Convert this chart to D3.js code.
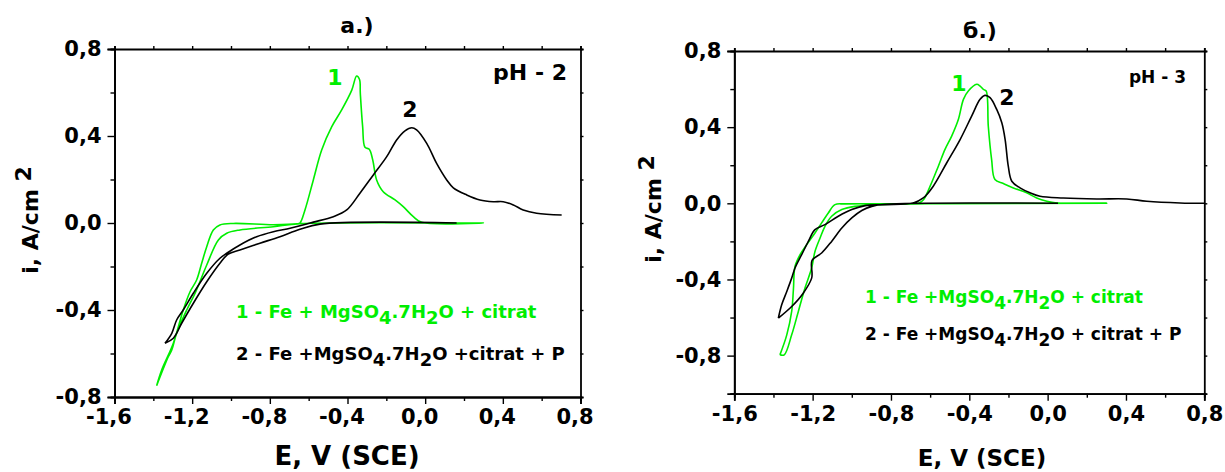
<!DOCTYPE html>
<html>
<head>
<meta charset="utf-8">
<script src="https://cdn.jsdelivr.net/npm/d3@7"></script>
<style>
  body { margin: 0; background: #fff; }
  svg text { font-family: "DejaVu Sans", sans-serif; font-weight: bold; }
</style>
</head>
<body>
<div id="chart-area"></div>
<script>
// Data: [E (V), i (A/cm2)], null = pen up

// a.) pH 2, curve 1 (Fe + MgSO4.7H2O + citrat)
const phTwoCurve1 = [
  [-1.383,-0.748],[-1.357,-0.676],[-1.297,-0.553],[-1.246,-0.40],[-1.211,-0.316],[-1.177,-0.262],
  [-1.151,-0.185],[-1.125,-0.109],[-1.091,-0.032],[-1.057,-0.009],[-0.988,-0.002],[-0.782,-0.008],
  [-0.662,-0.004],[-0.645,0.0],[-0.619,0.06],[-0.576,0.198],[-0.533,0.336],[-0.481,0.443],
  [-0.43,0.52],[-0.378,0.611],[-0.353,0.676],[-0.338,0.66],[-0.334,0.596],[-0.322,0.443],
  [-0.31,0.348],[-0.288,0.339],[-0.27,0.29],[-0.25,0.198],[-0.216,0.144],[-0.155,0.106],
  [-0.113,0.075],[-0.061,0.029],[-0.018,0.003],[0.3,0.0],[-0.644,-0.003],[-0.782,-0.017],
  [-0.954,-0.032],[-1.022,-0.047],[-1.065,-0.078],[-1.125,-0.193],[-1.185,-0.323],[-1.228,-0.40],
  [-1.28,-0.507],[-1.305,-0.584],[-1.323,-0.615],[-1.383,-0.748]
];
// a.) pH 2, curve 2 (… + P)
const phTwoCurve2 = [
  [-1.34,-0.553],[-1.305,-0.507],[-1.28,-0.446],[-1.246,-0.40],[-1.194,-0.323],[-1.125,-0.231],
  [-1.057,-0.162],[-1.022,-0.139],[-0.954,-0.101],[-0.868,-0.063],[-0.782,-0.04],[-0.696,-0.024],
  [-0.61,-0.005],[-0.576,0.004],[-0.473,0.029],[-0.404,0.06],[-0.336,0.137],[-0.267,0.221],
  [-0.198,0.305],[-0.147,0.382],[-0.104,0.424],[-0.069,0.438],[-0.044,0.428],[0.008,0.366],
  [0.059,0.274],[0.111,0.198],[0.145,0.162],[0.214,0.129],[0.282,0.106],[0.351,0.098],
  [0.402,0.098],[0.454,0.083],[0.505,0.06],[0.574,0.045],[0.703,0.037],
  null,
  [0.162,0.0],[-0.542,-0.005],[-0.645,-0.029],[-0.748,-0.063],[-0.851,-0.093],[-0.954,-0.124],
  [-1.014,-0.143],[-1.057,-0.185],[-1.125,-0.27],[-1.194,-0.369],[-1.254,-0.461],[-1.297,-0.53],
  [-1.34,-0.553]
];
// б.) pH 3, curve 1
const phThreeCurve1 = [
  [-1.367,-0.796],[-1.332,-0.691],[-1.307,-0.568],[-1.298,-0.45],[-1.29,-0.332],[-1.264,-0.27],
  [-1.23,-0.217],[-1.188,-0.156],[-1.154,-0.103],[-1.12,-0.051],[-1.086,-0.007],[-1.035,-0.003],
  [-0.7,-0.002],[-0.66,0.0],[-0.634,0.019],[-0.6,0.09],[-0.558,0.195],[-0.524,0.283],
  [-0.49,0.353],[-0.456,0.44],[-0.43,0.546],[-0.405,0.59],[-0.362,0.625],[-0.345,0.616],
  [-0.328,0.598],[-0.314,0.59],[-0.303,0.405],[-0.286,0.23],[-0.269,0.125],[-0.226,0.104],
  [-0.175,0.081],[-0.107,0.055],[-0.056,0.028],[-0.004,0.011],[0.047,0.002],[0.302,0.0],
  [-0.524,-0.002],[-0.865,-0.007],[-0.984,-0.016],[-1.051,-0.033],[-1.103,-0.068],[-1.137,-0.121],
  [-1.162,-0.182],[-1.188,-0.253],[-1.205,-0.34],[-1.239,-0.445],[-1.273,-0.568],[-1.307,-0.691],
  [-1.345,-0.796],[-1.367,-0.796]
];
// б.) pH 3, curve 2
const phThreeCurve2 = [
  [-1.375,-0.603],[-1.358,-0.533],[-1.332,-0.463],[-1.307,-0.393],[-1.29,-0.34],[-1.256,-0.27],
  [-1.222,-0.2],[-1.188,-0.138],[-1.137,-0.112],[-1.069,-0.068],[-1.0,-0.033],[-0.932,-0.012],
  [-0.83,-0.007],[-0.686,0.002],[-0.635,0.028],[-0.584,0.09],[-0.515,0.213],[-0.447,0.335],
  [-0.388,0.458],[-0.345,0.546],[-0.32,0.567],[-0.294,0.555],[-0.26,0.493],[-0.234,0.423],
  [-0.217,0.335],[-0.201,0.195],[-0.183,0.116],[-0.141,0.081],[-0.09,0.055],[-0.039,0.037],
  [0.08,0.028],[0.251,0.023],[0.404,0.023],[0.506,0.011],[0.676,0.002],[0.804,0.0],
  null,
  [0.053,0.0],[-0.83,-0.005],[-0.898,-0.016],[-0.949,-0.038],[-1.0,-0.077],[-1.051,-0.13],
  [-1.103,-0.2],[-1.154,-0.261],[-1.203,-0.30],[-1.203,-0.37],[-1.205,-0.393],[-1.248,-0.472],
  [-1.307,-0.542],[-1.375,-0.603]
];

// Axis ticks and labels
const xDomain = [-1.6, 0.8];
const xMajor = [-1.6, -1.2, -0.8, -0.4, 0.0, 0.4, 0.8];
const xMinor = [-1.4, -1.0, -0.6, -0.2, 0.2, 0.6];
const yMajor = [-0.8, -0.4, 0.0, 0.4, 0.8];
const yMinorTwo = [-0.6, -0.2, 0.2, 0.6];
const yMinorThree = [-1.0, -0.6, -0.2, 0.2, 0.6];
const yDomainTwo = [-0.8, 0.8];
const yDomainThree = [-1.0, 0.8];

const titles = ["a.)", "б.)"];
const phLabels = ["pH - 2", "pH - 3"];
const xTitle = "E, V (SCE)";
const legend1 = [["1 - Fe + MgSO", "4", ".7H", "2", "O + citrat"], ["1 - Fe +MgSO", "4", ".7H", "2", "O + citrat"]];
const legend2 = [["2 - Fe +MgSO", "4", ".7H", "2", "O +citrat + P"], ["2 - Fe +MgSO", "4", ".7H", "2", "O + citrat + P"]];

const green = "#00ee00";
const black = "#000";

// Panels (layout only)
const panels = [
  { x0: 114.5, x1: 580.5, y0: 49, y1: 397, yDomain: yDomainTwo, yMinor: yMinorTwo,
    curves: [phTwoCurve1, phTwoCurve2], labelShift: -6,
    title: { x: 357, y: 33, size: 22 }, ph: { x: 567, y: 80, size: 22 },
    n1: { x: 335, y: 85, size: 22 }, n2: { x: 410, y: 117, size: 22 },
    leg: { x: 236, y1: 318, y2: 360, size: 18 },
    xt: { x: 347, y: 465, size: 26 }, yt: { x: 38, y: 220, size: 22 } },
  { x0: 734.3, x1: 1204.3, y0: 51, y1: 393.7, yDomain: yDomainThree, yMinor: yMinorThree,
    curves: [phThreeCurve1, phThreeCurve2], labelShift: 0,
    title: { x: 980, y: 38, size: 22 }, ph: { x: 1186, y: 83, size: 17 },
    n1: { x: 959, y: 91, size: 22 }, n2: { x: 1007, y: 105, size: 22 },
    leg: { x: 865, y1: 303, y2: 340, size: 17 },
    xt: { x: 982, y: 466, size: 23 }, yt: { x: 661, y: 209, size: 22 } }
];

const fmt = v => d3.format(".1f")(v).replace("−", "-").replace(".", ",");

const svg = d3.select("#chart-area")
  .append("svg")
    .attr("width", 1225)
    .attr("height", 472);

panels.forEach((p, k) => {
  const x = d3.scaleLinear().domain(xDomain).range([p.x0, p.x1]);
  const y = d3.scaleLinear().domain(p.yDomain).range([p.y1, p.y0]);
  const g = svg.append("g");

  // curves
  const line = d3.line()
    .defined(d => d !== null)
    .curve(d3.curveCatmullRom.alpha(0.5))
    .x(d => x(d[0]))
    .y(d => y(d[1]));
  p.curves.forEach((c, j) => {
    g.append("path")
      .attr("d", line(c))
      .attr("fill", "none")
      .attr("stroke", j === 0 ? green : black)
      .attr("stroke-width", 1.6)
      .attr("stroke-linejoin", "round");
  });

  // axes: major + minor, mirrored on top/right
  const bottom = g.append("g").attr("transform", `translate(0,${p.y1})`);
  bottom.call(d3.axisBottom(x).tickValues(xMajor).tickSize(7).tickPadding(5).tickFormat(fmt));
  bottom.append("g").call(d3.axisBottom(x).tickValues(xMinor).tickSize(4).tickFormat(""));
  bottom.selectAll(".tick text").attr("dx", p.labelShift);

  const left = g.append("g").attr("transform", `translate(${p.x0},0)`);
  left.call(d3.axisLeft(y).tickValues(yMajor).tickSize(7).tickPadding(6).tickFormat(fmt));
  left.append("g").call(d3.axisLeft(y).tickValues(p.yMinor).tickSize(4).tickFormat(""));

  const top = g.append("g").attr("transform", `translate(0,${p.y0})`);
  top.call(d3.axisTop(x).tickValues(xMajor.concat(xMinor)).tickSize(3).tickFormat(""));
  const right = g.append("g").attr("transform", `translate(${p.x1},0)`);
  right.call(d3.axisRight(y).tickValues(yMajor.concat(p.yMinor)).tickSize(3).tickFormat(""));

  g.selectAll(".domain").attr("stroke-width", 1.8).attr("stroke", "#000");
  g.selectAll(".tick line").attr("stroke-width", 1.4).attr("stroke", "#000");
  g.selectAll(".tick text")
    .attr("font-size", 21)
    .attr("font-family", "DejaVu Sans, sans-serif")
    .attr("font-weight", "bold")
    .attr("fill", "#000");

  // texts
  g.append("text").attr("x", p.title.x).attr("y", p.title.y)
    .attr("text-anchor", "middle").attr("font-size", p.title.size).text(titles[k]);
  g.append("text").attr("x", p.ph.x).attr("y", p.ph.y)
    .attr("text-anchor", "end").attr("font-size", p.ph.size).text(phLabels[k]);
  g.append("text").attr("x", p.n1.x).attr("y", p.n1.y).attr("fill", green)
    .attr("text-anchor", "middle").attr("font-size", p.n1.size).text("1");
  g.append("text").attr("x", p.n2.x).attr("y", p.n2.y)
    .attr("text-anchor", "middle").attr("font-size", p.n2.size).text("2");

  [[legend1[k], p.leg.y1, green], [legend2[k], p.leg.y2, black]].forEach(([parts, ly, col]) => {
    const t = g.append("text").attr("x", p.leg.x).attr("y", ly)
      .attr("fill", col).attr("font-size", p.leg.size);
    parts.forEach((s, i) => {
      const sub = i === 1 || i === 3;
      const ts = t.append("tspan").text(s);
      if (sub) ts.attr("dy", 6);
      else if (i > 0) ts.attr("dy", -6);
    });
  });

  g.append("text").attr("x", p.xt.x).attr("y", p.xt.y)
    .attr("text-anchor", "middle").attr("font-size", p.xt.size).text(xTitle);

  const yt = g.append("text")
    .attr("transform", `translate(${p.yt.x},${p.yt.y}) rotate(-90)`)
    .attr("text-anchor", "middle").attr("font-size", p.yt.size);
  yt.append("tspan").text("i, A/cm ");
  yt.append("tspan").attr("dy", -7).text("2");
});
</script>
</body>
</html>
